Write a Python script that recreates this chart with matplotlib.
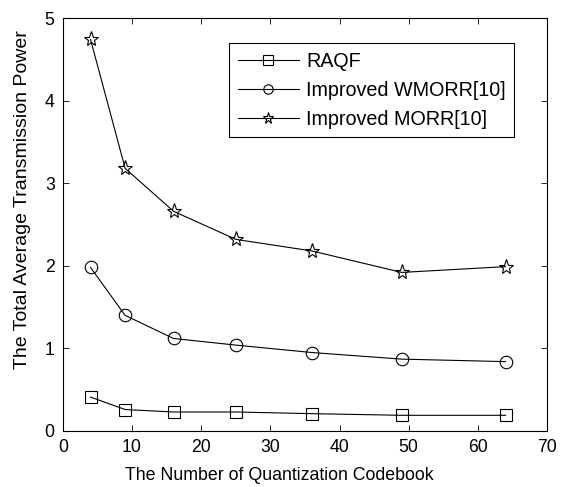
import matplotlib
matplotlib.use("Agg")
import matplotlib.pyplot as plt

plt.rcParams['font.family'] = ['Liberation Sans', 'DejaVu Sans']

x = [4, 9, 16, 25, 36, 49, 64]
raqf = [0.41, 0.26, 0.23, 0.23, 0.21, 0.19, 0.19]
wmorr = [1.98, 1.40, 1.12, 1.04, 0.95, 0.87, 0.84]
morr = [4.74, 3.18, 2.66, 2.32, 2.18, 1.92, 1.99]
labels = ['RAQF', 'Improved WMORR[10]', 'Improved MORR[10]']

fig = plt.figure(figsize=(5.77, 4.87), dpi=100)
ax = fig.add_axes([0.109, 0.115, 0.839, 0.848])

ax.plot(x, raqf, '-s', color='black', lw=0.8, ms=9, mfc='none', mew=0.8, label=labels[0])
ax.plot(x, wmorr, '-o', color='black', lw=0.8, ms=9, mfc='none', mew=0.8, label=labels[1])
ax.plot(x, morr, '-*', color='black', lw=0.8, ms=11, mfc='none', mew=0.8, label=labels[2])

ax.set_xlim(0, 70)
ax.set_ylim(0, 5)
ax.set_xticks(range(0, 71, 10))
ax.set_yticks(range(0, 6))
ax.tick_params(direction='in', top=True, right=True, labelsize=12.7, length=4, width=0.6, pad=6)
for s in ax.spines.values():
    s.set_linewidth(0.8)
ax.set_xlabel('The Number of Quantization Codebook', fontsize=12.8)
ax.set_ylabel('The Total Average Transmission Power', fontsize=14)
ax.xaxis.set_label_coords(0.448, -0.087)
ax.yaxis.set_label_coords(-0.066, 0.56)

leg = ax.legend(loc='upper left', bbox_to_anchor=(229 / 577, 1 - 43 / 487),
                bbox_transform=fig.transFigure, fontsize=14.2,
                handlelength=3.1, fancybox=False, edgecolor='black', framealpha=1,
                borderpad=0.45, labelspacing=0.5, handletextpad=0.35, markerscale=0.75,
                borderaxespad=0)
leg.get_frame().set_linewidth(0.8)

fig.savefig('out.png', dpi=100)
